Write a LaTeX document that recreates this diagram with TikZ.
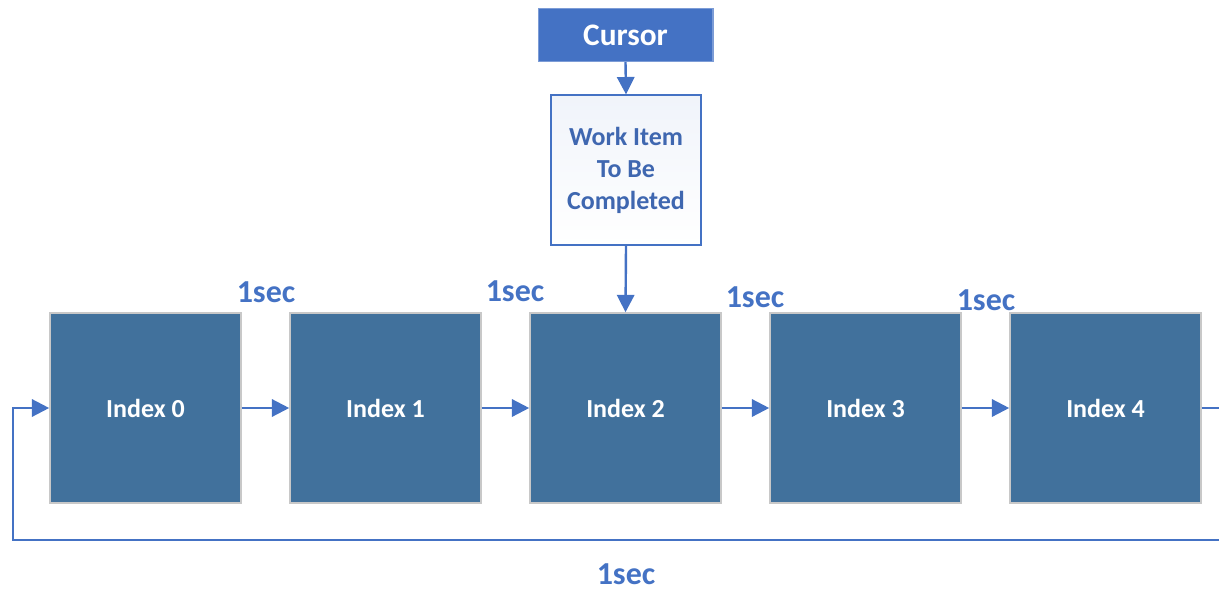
\documentclass[tikz,border=0pt]{standalone}
\usepackage{fontspec}
\setmainfont{Carlito}
\usetikzlibrary{arrows.meta}
\definecolor{idxfill}{HTML}{41719C}
\definecolor{acc}{HTML}{4472C4}
\definecolor{wtext}{HTML}{3F67B0}
\definecolor{gborder}{HTML}{C8C8C8}
\begin{document}
\begin{tikzpicture}[x=0.75pt,y=-0.75pt,
  idx/.style={draw=gborder,line width=1.2pt,fill=idxfill,minimum width=143.25pt,minimum height=142.5pt,inner sep=0pt,text=white,font=\bfseries\fontsize{19.5}{22}\selectfont},
  conn/.style={draw=acc,line width=1.8pt,-{Triangle[length=13pt,width=13pt]}},
  plain/.style={draw=acc,line width=1.8pt},
  lbl/.style={text=acc,font=\bfseries\fontsize{24}{28}\selectfont,inner sep=0pt}]
\useasboundingbox (0,0) rectangle (1219,592);
\node[draw=acc!70,line width=1pt,fill=acc,minimum width=131pt,minimum height=39.75pt,inner sep=0pt,text=white,font=\bfseries\fontsize{23.5}{26}\selectfont] (cur) at (625.5,35) {Cursor};
\node[draw=acc,line width=1pt,top color=acc!8,bottom color=white,minimum width=112.5pt,minimum height=112.5pt,inner sep=0pt,align=center,text=wtext,font=\bfseries\fontsize{19.5}{24}\selectfont] (work) at (626,170) {Work Item\\To Be\\Completed};
\node[idx] (i0) at (145.5,408) {Index 0};
\node[idx] (i1) at (385.5,408) {Index 1};
\node[idx] (i2) at (625.5,408) {Index 2};
\node[idx] (i3) at (865.5,408) {Index 3};
\node[idx] (i4) at (1105.5,408) {Index 4};
\coordinate (r) at (1219,408);
\coordinate (br) at (1219,540);
\coordinate (bl) at (13,540);
\coordinate (tl) at (13,408);
\draw[conn] (cur.south) -- (work.north);
\draw[conn] (work.south) -- (i2.north);
\draw[conn] (i0.east) -- (i1.west);
\draw[conn] (i1.east) -- (i2.west);
\draw[conn] (i2.east) -- (i3.west);
\draw[conn] (i3.east) -- (i4.west);
\draw[plain] (i4.east) -- (r);
\draw[conn] (br) -- (bl) -- (tl) -- (i0.west);
\node[lbl] (l1) at (266,292) {1sec};
\node[lbl] (l2) at (515,291) {1sec};
\node[lbl] (l3) at (755,297) {1sec};
\node[lbl] (l4) at (986,300) {1sec};
\node[lbl] (l5) at (626,574) {1sec};
\end{tikzpicture}
\end{document}
